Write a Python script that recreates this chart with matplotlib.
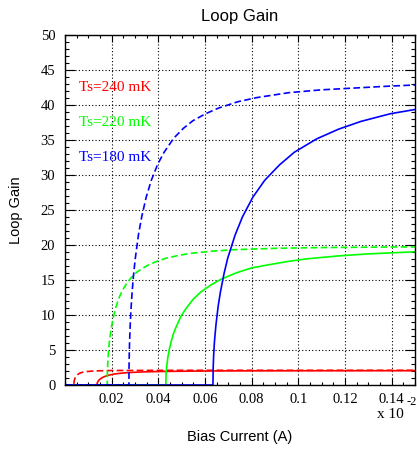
import numpy as np
import matplotlib
matplotlib.use("Agg")
import matplotlib.pyplot as plt
from matplotlib.ticker import MultipleLocator

# loop gain vs bias current (x axis in units of 1e-2 A)
# each curve sits at zero below its threshold current
blue_solid_x = [0.0, 0.0634, 0.06353, 0.06372, 0.06403, 0.06467, 0.06562, 0.06657, 0.06816, 0.06974,
                0.07291, 0.07608, 0.08052, 0.08559, 0.09193, 0.09827, 0.10778, 0.11729, 0.1268,
                0.13948, 0.15]
blue_solid_y = [0.0, 0.0, 2.7, 4.3, 6.1, 8.5, 11.2, 13.2, 15.9, 18.1,
                21.4, 24.0, 26.8, 29.2, 31.4, 33.2, 35.1, 36.5, 37.6,
                38.7, 39.3]

blue_dash_x = [0.0, 0.0274, 0.02745, 0.02754, 0.02767, 0.02795, 0.02836, 0.02877, 0.02946, 0.03014,
               0.03151, 0.03288, 0.0348, 0.03699, 0.03973, 0.04247, 0.04658, 0.05069, 0.0548,
               0.06028, 0.06576, 0.07398, 0.0822, 0.0959, 0.1096, 0.137, 0.15]
blue_dash_y = [0.0, 0.0, 2.7, 4.3, 6.1, 8.6, 11.2, 13.3, 16.0, 18.1,
               21.5, 24.0, 26.8, 29.2, 31.5, 33.2, 35.2, 36.6, 37.7,
               38.7, 39.5, 40.4, 41.0, 41.7, 42.1, 42.6, 42.8]

green_solid_x = [0.0, 0.0432, 0.04329, 0.04342, 0.04363, 0.04406, 0.04471, 0.04536, 0.04644, 0.04752,
                 0.04968, 0.05184, 0.05486, 0.05832, 0.06264, 0.06696, 0.07344, 0.07992, 0.0864,
                 0.09504, 0.10368, 0.11664, 0.1296, 0.15]
green_solid_y = [0.0, 0.0, 1.25, 2.0, 2.8, 3.9, 5.1, 6.0, 7.3, 8.2,
                 9.8, 10.9, 12.2, 13.3, 14.3, 15.1, 16.0, 16.7, 17.1,
                 17.6, 18.0, 18.4, 18.7, 19.0]

green_dash_x = [0.0, 0.0181, 0.01814, 0.01819, 0.01828, 0.01846, 0.01873, 0.01901, 0.01946, 0.01991,
                0.02082, 0.02172, 0.02299, 0.02444, 0.02625, 0.02806, 0.03077, 0.03349, 0.0362,
                0.03982, 0.04344, 0.04887, 0.0543, 0.06335, 0.0724, 0.0905, 0.1086, 0.1448, 0.15]
green_dash_y = [0.0, 0.0, 1.26, 2.0, 2.8, 3.9, 5.1, 6.1, 7.3, 8.3,
                9.8, 11.0, 12.3, 13.4, 14.4, 15.2, 16.1, 16.7, 17.2,
                17.7, 18.1, 18.5, 18.8, 19.1, 19.3, 19.5, 19.6, 19.7, 19.7]

red_solid_x = [0.0, 0.0137, 0.01373, 0.01377, 0.01384, 0.01397, 0.01418, 0.01439, 0.01473, 0.01507,
               0.01576, 0.01644, 0.0174, 0.0185, 0.01987, 0.02124, 0.02329, 0.02535, 0.0274,
               0.03288, 0.0411, 0.0548, 0.0685, 0.0822, 0.1096, 0.15]
red_solid_y = [0.0, 0.0, 0.13, 0.2, 0.29, 0.4, 0.53, 0.63, 0.75, 0.85,
               1.01, 1.13, 1.26, 1.38, 1.48, 1.57, 1.66, 1.72, 1.78,
               1.86, 1.93, 1.98, 2.01, 2.02, 2.03, 2.04]

red_dash_x = [0.0, 0.0038, 0.00381, 0.00382, 0.00384, 0.00388, 0.00393, 0.00399, 0.00409, 0.00418,
              0.00437, 0.00456, 0.00483, 0.00513, 0.00551, 0.00589, 0.00646, 0.00703, 0.0076,
              0.00912, 0.0114, 0.0152, 0.019, 0.0228, 0.0304, 0.038, 0.057, 0.15]
red_dash_y = [0.0, 0.0, 0.13, 0.21, 0.29, 0.41, 0.54, 0.64, 0.77, 0.87,
              1.04, 1.16, 1.29, 1.41, 1.52, 1.60, 1.70, 1.77, 1.82,
              1.91, 1.98, 2.03, 2.06, 2.07, 2.08, 2.09, 2.10, 2.10]

labels = ["Ts=240 mK", "Ts=220 mK", "Ts=180 mK"]
colors = ["#ff0000", "#00ff00", "#0000ff"]

fig = plt.figure(figsize=(4.17, 4.5), dpi=100)
ax = fig.add_axes([65/417, 65/450, 350/417, 350.5/450])

dash = (0, (4, 2))
lw = 1.2
ax.plot(red_solid_x, red_solid_y, color=colors[0], lw=lw)
ax.plot(red_dash_x, red_dash_y, color=colors[0], lw=lw, linestyle=dash)
ax.plot(green_solid_x, green_solid_y, color=colors[1], lw=lw)
ax.plot(green_dash_x, green_dash_y, color=colors[1], lw=lw, linestyle=dash)
ax.plot(blue_dash_x, blue_dash_y, color=colors[2], lw=lw, linestyle=dash)
ax.plot(blue_solid_x, blue_solid_y, color=colors[2], lw=lw)

ax.set_xlim(0, 0.15)
ax.set_ylim(0, 50)
ax.xaxis.set_minor_locator(MultipleLocator(0.005))
ax.yaxis.set_minor_locator(MultipleLocator(1))
ax.set_xticks([0.02, 0.04, 0.06, 0.08, 0.1, 0.12, 0.14])
ax.set_xticklabels(["0.02", "0.04", "0.06", "0.08", "0.1", "0.12", "0.14"])
ax.set_yticks(range(0, 51, 5))

ax.grid(True, which="major", color="black", linestyle=(0, (1, 2)), linewidth=0.8)
ax.set_axisbelow(True)

ax.tick_params(which="both", direction="in", top=True, right=True, width=0.8)
ax.tick_params(axis="x", which="major", length=5, pad=6)
ax.tick_params(axis="x", which="minor", length=2.5)
ax.tick_params(axis="y", which="major", length=7, pad=7)
ax.tick_params(axis="y", which="minor", length=3)
for lab in ax.get_xticklabels() + ax.get_yticklabels():
    lab.set_fontfamily("Liberation Serif")
    lab.set_fontsize(10.5)
for sp in ax.spines.values():
    sp.set_linewidth(1.0)

# temperature labels
for i, (txt, c) in enumerate(zip(labels, colors)):
    ax.text(0.0058, 42.4 - 5 * i, txt, color=c, fontsize=11,
            family="Liberation Serif", va="center", ha="left")

fig.text(240/417, 1 - 16/450, "Loop Gain", ha="center", va="center",
         fontsize=12, family="Liberation Sans")
fig.text(240/417, 1 - 437/450, "Bias Current (A)", ha="center", va="center",
         fontsize=10.5, family="Liberation Sans")
fig.text(16/417, 1 - 210/450, "Loop Gain", ha="center", va="center",
         rotation=90, fontsize=10.5, family="Liberation Sans")
fig.text(377/417, 1 - 418/450, "x 10", ha="left", va="baseline",
         fontsize=11, family="Liberation Serif")
fig.text(407/417, 1 - 405/450, "-2", ha="left", va="baseline",
         fontsize=9, family="Liberation Serif")

fig.savefig("out.png", dpi=100)
